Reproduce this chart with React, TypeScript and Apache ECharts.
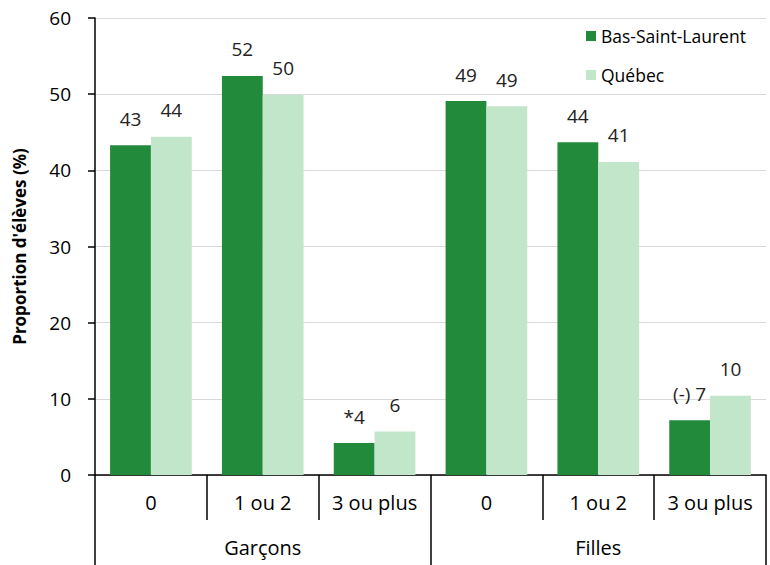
import React, { useEffect, useRef } from "react";
import * as echarts from "echarts";

const subCategories = ["0", "1 ou 2", "3 ou plus", "0", "1 ou 2", "3 ou plus"];
const groups = ["Garçons", "Filles"];
const bslValues = [43.3, 52.4, 4.2, 49.1, 43.7, 7.2];
const bslLabels = ["43", "52", "*4", "49", "44", "(-) 7"];
const qcValues = [44.4, 49.9, 5.7, 48.4, 41.1, 10.4];
const qcLabels = ["44", "50", "6", "49", "41", "10"];
const yTicks = [0, 10, 20, 30, 40, 50, 60];

const FONT = "'Open Sans', 'Noto Sans', sans-serif";

export default function App() {
  const ref = useRef<HTMLDivElement>(null);
  useEffect(() => {
    if (!ref.current) return;
    const chart = echarts.init(ref.current, undefined, { renderer: "svg" });
    chart.setOption({
      animation: false,
      textStyle: { fontFamily: FONT },
      grid: { left: 95, right: 4, top: 18, bottom: 90, containLabel: false },
      legend: {
        orient: "vertical",
        left: 581,
        top: 22,
        itemWidth: 10,
        itemHeight: 10,
        itemGap: 21,
        icon: "rect",
        textStyle: { fontFamily: FONT, fontSize: 17.5, color: "#000" },
        data: ["Bas-Saint-Laurent", "Québec"],
      },
      xAxis: [
        {
          type: "category",
          data: subCategories,
          position: "bottom",
          axisLine: { show: true, lineStyle: { color: "#000", width: 1.5 } },
          axisTick: { show: true, length: 45, lineStyle: { color: "#000", width: 1.5 } },
          axisLabel: { fontFamily: FONT, fontSize: 20, color: "#000", margin: 17 },
        },
        {
          type: "category",
          data: groups,
          position: "bottom",
          offset: 45,
          axisLine: { show: false },
          axisTick: { show: true, length: 45, lineStyle: { color: "#000", width: 1.5 } },
          axisLabel: { fontFamily: FONT, fontSize: 20, color: "#000", margin: 17 },
        },
      ],
      yAxis: {
        type: "value",
        min: yTicks[0],
        max: yTicks[yTicks.length - 1],
        interval: 10,
        name: "Proportion d'élèves (%)",
        nameLocation: "middle",
        nameGap: 67,
        nameTextStyle: { fontFamily: FONT, fontSize: 17, fontWeight: "bold", color: "#000" },
        axisLine: { show: true, lineStyle: { color: "#000", width: 1.5 } },
        axisTick: { show: true, length: 7, lineStyle: { color: "#000", width: 1.5 } },
        axisLabel: { fontFamily: FONT, fontSize: 19, color: "#000", margin: 24 },
        splitLine: { show: true, lineStyle: { color: "#d9d9d9", width: 1 } },
      },
      series: [
        {
          name: "Bas-Saint-Laurent",
          type: "bar",
          xAxisIndex: 0,
          data: bslValues,
          barGap: "0%",
          barCategoryGap: "27%",
          itemStyle: { color: "#218B3B" },
          label: {
            show: true,
            position: "top",
            distance: 17,
            fontFamily: FONT,
            fontSize: 19,
            color: "#222",
            formatter: (p: any) => bslLabels[p.dataIndex],
          },
        },
        {
          name: "Québec",
          type: "bar",
          xAxisIndex: 0,
          data: qcValues,
          itemStyle: { color: "#C2E6CA" },
          label: {
            show: true,
            position: "top",
            distance: 17,
            fontFamily: FONT,
            fontSize: 19,
            color: "#222",
            formatter: (p: any) => qcLabels[p.dataIndex],
          },
        },
      ],
    });
    return () => chart.dispose();
  }, []);
  return <div ref={ref} style={{ width: 770, height: 565, position: "absolute", left: 0, top: 0 }} />;
}
